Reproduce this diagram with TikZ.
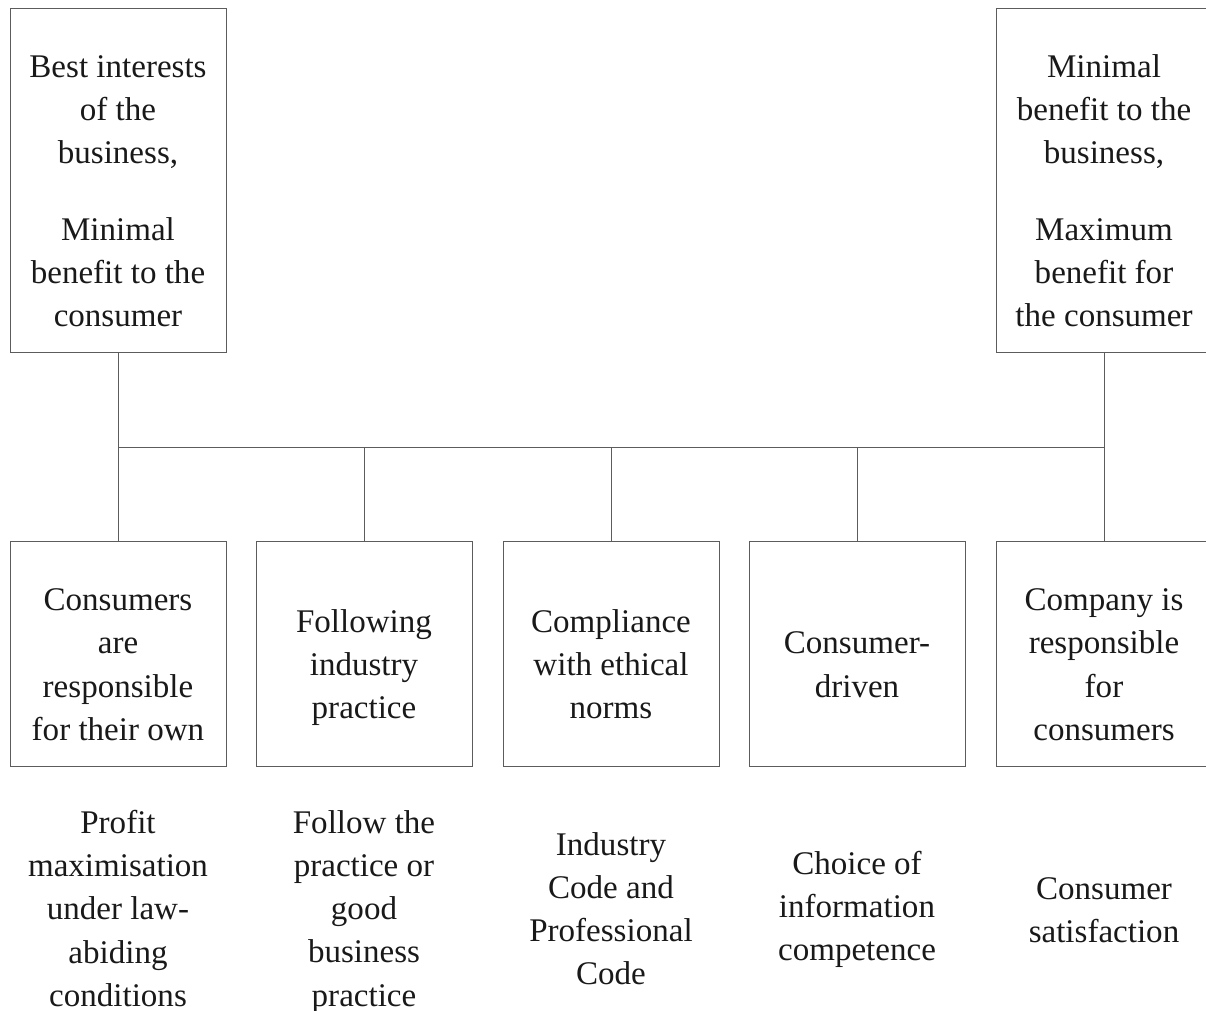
\documentclass[tikz,border=0pt]{standalone}
\usepackage{fontspec}
\setmainfont{Liberation Serif}
\usetikzlibrary{positioning,calc}
\definecolor{linegray}{rgb}{0.36,0.36,0.36}
\definecolor{textblack}{rgb}{0.1,0.1,0.1}
\newcommand{\boxlift}[1][31.5pt]{\rule{0pt}{#1}}

\begin{document}
\begin{tikzpicture}[x=0.025cm,y=-0.025cm,
box/.style={draw=linegray,line width=0.6pt,rectangle,minimum width=5.4cm,inner sep=0pt,align=center,text=textblack,font=\fontsize{23.5}{30.6}\selectfont},
topbox/.style={box,minimum height=8.6cm},
lowbox/.style={box,minimum height=5.625cm},
note/.style={align=center,text=textblack,font=\fontsize{23.5}{30.6}\selectfont},
wire/.style={draw=linegray,line width=0.6pt}]

\useasboundingbox (0,0) rectangle (1206,1011);
\clip (0,0) rectangle (1206,1011);

% top boxes
\node[topbox] (business) at (118,180) {\boxlift Best interests\\of the\\business,\\[0.85cm]Minimal\\benefit to the\\consumer};
\node[topbox] (consumer) at (1104,180) {\boxlift Minimal\\benefit to the\\business,\\[0.85cm]Maximum\\benefit for\\the consumer};

% lower boxes
\node[lowbox] (own) at (118,653.5) {\boxlift Consumers\\are\\responsible\\for their own};
\node[lowbox] (industry) at (364,653.5) {\boxlift[35.8pt]Following\\industry\\practice};
\node[lowbox] (ethical) at (611,653.5) {\boxlift Compliance\\with ethical\\norms};
\node[lowbox] (driven) at (857,653.5) {\boxlift Consumer-\\driven};
\node[lowbox] (company) at (1104,653.5) {\boxlift Company is\\responsible\\for\\consumers};

% notes
\node[note] (profit) at (118,908.5) {Profit\\maximisation\\under law-\\abiding\\conditions};
\node[note] (follow) at (364,912) {Follow the\\practice or\\good\\business\\practice};
\node[note] (code) at (611,909) {Industry\\Code and\\Professional\\Code};
\node[note] (choice) at (857,909) {Choice of\\information\\competence};
\node[note] (satis) at (1104,910) {Consumer\\satisfaction};

% bus
\coordinate (busl) at (118,447);
\coordinate (busr) at (1104,447);

\draw[wire] (business.south) -- (own.north);
\draw[wire] (consumer.south) -- (company.north);
\draw[wire] (busl) -- (busr);
\draw[wire] (industry.north) -- (industry.north |- busl);
\draw[wire] (ethical.north) -- (ethical.north |- busl);
\draw[wire] (driven.north) -- (driven.north |- busl);
\end{tikzpicture}
\end{document}
